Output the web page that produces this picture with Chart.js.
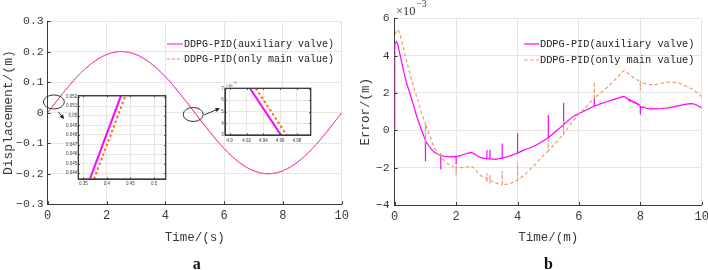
<!DOCTYPE html>
<html><head><meta charset="utf-8">
<script src="https://cdn.jsdelivr.net/npm/chart.js@4.4.1/dist/chart.umd.min.js"></script>
<style>
html,body{margin:0;padding:0;background:#fff;overflow:hidden;width:708px;height:270px;position:relative}
canvas{position:absolute}
</style></head><body>
<canvas id="cA" width="354" height="270" style="left:0;top:0"></canvas>
<canvas id="cB" width="364" height="270" style="left:354px;top:0"></canvas>
<canvas id="cI1" width="112" height="100" style="left:60px;top:90px"></canvas>
<canvas id="cI2" width="112" height="68" style="left:205px;top:80px"></canvas>
<script>
// ---------- data ----------
const legendLabels = ['DDPG-PID(auxiliary valve)', 'DDPG-PID(only main value)'];

// (a) displacement, m
const dispTime = [0,0.25,0.5,0.75,1,1.25,1.5,1.75,2,2.25,2.5,2.75,3,3.25,3.5,3.75,4,4.25,4.5,4.75,5,5.25,5.5,5.75,6,6.25,6.5,6.75,7,7.25,7.5,7.75,8,8.25,8.5,8.75,9,9.25,9.5,9.75,10];
const dispAux = [0,0.0313,0.0618,0.0908,0.1176,0.1414,0.1618,0.1782,0.1902,0.1975,0.2000,0.1975,0.1902,0.1782,0.1618,0.1414,0.1176,0.0908,0.0618,0.0313,0,-0.0313,-0.0618,-0.0908,-0.1176,-0.1414,-0.1618,-0.1782,-0.1902,-0.1975,-0.2000,-0.1975,-0.1902,-0.1782,-0.1618,-0.1414,-0.1176,-0.0908,-0.0618,-0.0313,0];
const dispMain = [0,0.0301,0.0606,0.0897,0.1166,0.1405,0.1611,0.1777,0.1898,0.1973,0.2000,0.1977,0.1906,0.1788,0.1625,0.1423,0.1186,0.0919,0.0630,0.0325,0.0013,-0.0301,-0.0606,-0.0897,-0.1166,-0.1405,-0.1611,-0.1777,-0.1898,-0.1973,-0.2000,-0.1977,-0.1906,-0.1788,-0.1625,-0.1423,-0.1186,-0.0919,-0.0630,-0.0325,-0.0013];
const dispXTicks = [0,2,4,6,8,10];
const dispYTicks = [-0.3,-0.2,-0.1,0,0.1,0.2,0.3];

// zoom insets of (a)
const zoom1Aux  = [[0.364,0.0434],[0.430,0.0521]];
const zoom1Main = [[0.3727,0.0434],[0.4394,0.0521]];
const zoom1XTicks = [0.35,0.4,0.45,0.5];
const zoom1YTicks = [0.044,0.045,0.046,0.047,0.048,0.049,0.05,0.051,0.052];
const zoom2Aux  = [[4.924,0.00702],[4.961,0.003]];
const zoom2Main = [[4.931,0.00702],[4.9678,0.003]];
const zoom2XTicks = [4.9,4.92,4.94,4.96,4.98];
const zoom2YTicks = [0.003,0.004,0.005,0.006,0.007];

// (b) error, x10^-3 m   [time, value]
const errAux = [[0,0],[0,4.6],[0.05,4.75],[0.1,4.6],[0.2,3.85],[0.3,3.1],[0.4,2.45],[0.5,1.96],[0.6,1.4],[0.7,0.85],[0.8,0.35],[0.9,-0.1],[1.0,-0.54],[1.0,-1.66],[1.005,-0.56],[1.1,-0.8],[1.2,-1.02],[1.3,-1.18],[1.4,-1.28],[1.5,-1.34],[1.5,-2.1],[1.505,-1.34],[1.6,-1.39],[1.7,-1.41],[1.8,-1.42],[1.9,-1.41],[2.0,-1.4],[2.0,-1.82],[2.005,-1.4],[2.1,-1.37],[2.2,-1.32],[2.3,-1.27],[2.4,-1.22],[2.5,-1.18],[2.6,-1.27],[2.7,-1.38],[2.8,-1.45],[2.9,-1.5],[3.0,-1.52],[3.0,-1.05],[3.005,-1.52],[3.1,-1.53],[3.1,-1.05],[3.105,-1.53],[3.2,-1.54],[3.3,-1.54],[3.4,-1.52],[3.5,-1.49],[3.5,-0.7],[3.505,-1.49],[3.6,-1.45],[3.7,-1.4],[3.8,-1.34],[3.9,-1.28],[4.0,-1.22],[4.0,-0.16],[4.005,-1.22],[4.1,-1.14],[4.2,-1.06],[4.3,-1.0],[4.4,-0.95],[4.5,-0.88],[4.6,-0.8],[4.7,-0.7],[4.8,-0.6],[4.9,-0.5],[5.0,-0.4],[5.0,0.82],[5.005,-0.4],[5.1,-0.26],[5.2,-0.12],[5.3,0.02],[5.4,0.16],[5.5,0.3],[5.5,1.48],[5.505,0.3],[5.6,0.45],[5.7,0.6],[5.8,0.72],[5.9,0.82],[6.0,0.9],[6.2,1.05],[6.4,1.22],[6.5,1.3],[6.5,1.7],[6.505,1.3],[6.7,1.42],[6.9,1.53],[7.1,1.63],[7.3,1.74],[7.45,1.82],[7.5,1.8],[7.55,1.72],[7.6,1.68],[7.63,1.6],[7.67,1.64],[7.7,1.55],[7.73,1.59],[7.77,1.5],[7.8,1.54],[7.84,1.44],[7.87,1.48],[7.91,1.38],[7.94,1.42],[7.98,1.32],[8.0,1.3],[8.0,0.85],[8.005,1.28],[8.05,1.22],[8.1,1.25],[8.2,1.18],[8.35,1.15],[8.5,1.15],[8.7,1.17],[8.9,1.2],[9.1,1.27],[9.3,1.34],[9.5,1.4],[9.65,1.43],[9.75,1.41],[9.85,1.34],[9.95,1.25],[10,1.2]];
const errMain = [[0,0],[0,5.0],[0.05,5.3],[0.1,5.4],[0.17,5.18],[0.3,4.3],[0.4,3.65],[0.5,3.0],[0.6,2.4],[0.72,1.8],[0.85,1.05],[1.0,0.36],[1.0,-0.7],[1.005,0.33],[1.1,-0.1],[1.2,-0.55],[1.27,-0.9],[1.4,-1.25],[1.5,-1.43],[1.5,-1.15],[1.505,-1.45],[1.6,-1.6],[1.7,-1.75],[1.8,-1.87],[1.9,-1.94],[2.0,-1.98],[2.0,-2.4],[2.005,-1.98],[2.1,-2.0],[2.2,-2.0],[2.3,-1.97],[2.4,-1.94],[2.5,-1.91],[2.6,-2.05],[2.7,-2.25],[2.8,-2.42],[2.9,-2.52],[3.0,-2.57],[3.0,-2.3],[3.0,-2.8],[3.005,-2.58],[3.1,-2.65],[3.1,-2.35],[3.1,-2.85],[3.105,-2.66],[3.2,-2.75],[3.3,-2.83],[3.4,-2.88],[3.5,-2.9],[3.5,-2.18],[3.505,-2.9],[3.6,-2.9],[3.7,-2.88],[3.8,-2.83],[3.9,-2.76],[4.0,-2.66],[4.0,-1.68],[4.005,-2.66],[4.1,-2.55],[4.2,-2.42],[4.3,-2.28],[4.4,-2.12],[4.5,-1.95],[4.6,-1.78],[4.7,-1.6],[4.8,-1.42],[4.9,-1.25],[5.0,-1.1],[5.0,-0.5],[5.005,-1.1],[5.1,-0.93],[5.2,-0.76],[5.3,-0.58],[5.4,-0.38],[5.5,-0.18],[5.5,0.5],[5.505,-0.18],[5.6,0.03],[5.7,0.25],[5.8,0.47],[5.9,0.68],[6.0,0.88],[6.2,1.2],[6.4,1.55],[6.5,1.71],[6.5,2.6],[6.505,1.71],[6.6,1.85],[6.8,2.12],[7.0,2.43],[7.2,2.75],[7.4,3.1],[7.48,3.22],[7.6,3.05],[7.8,2.8],[8.0,2.6],[8.0,2.16],[8.005,2.6],[8.1,2.52],[8.3,2.45],[8.5,2.45],[8.7,2.52],[8.9,2.58],[9.1,2.57],[9.3,2.5],[9.5,2.36],[9.7,2.2],[9.9,1.95],[10,1.8]];
const errXTicks = [0,2,4,6,8,10];
const errYTicks = [-4,-2,0,2,4,6];

// ---------- styling helpers ----------
const INK = '#3a3a3a', GRID = '#e6e6e6';
const MONO = '"Liberation Mono","DejaVu Sans Mono",monospace';
const SERIF = '"Liberation Serif","DejaVu Serif",serif';
const SANS = '"Liberation Sans","DejaVu Sans",sans-serif';
const MAG = '#ff00ff', ORG = '#f2854f', ORG_B = '#f29a6e', ORG_I = '#ff6a1a';
Chart.defaults.font.family = MONO;

const minus = s => s.replace('-', '\u2212');

function lin(o) {
  return {
    type: 'linear', min: o.min, max: o.max,
    afterBuildTicks: s => { s.ticks = o.ticks.map(v => ({ value: v })); },
    afterFit: s => { if (o.w != null) s.width = o.w; if (o.h != null) s.height = o.h; },
    grid: { color: GRID, drawTicks: false, lineWidth: 1 },
    border: { display: true, color: INK, width: 1 },
    ticks: { padding: o.pad, color: INK, autoSkip: false, maxRotation: 0,
             font: { family: o.fam || MONO, size: o.fs }, callback: o.fmt },
    title: o.title ? { display: true, text: o.title, color: INK,
             font: { family: MONO, size: o.tfs }, padding: o.tpad } : { display: false }
  };
}

const pts = (xs, ys) => xs.map((x, i) => ({ x: x, y: ys[i] }));
const pairs = a => a.map(p => ({ x: p[0], y: p[1] }));

const decor = {
  id: 'decor',
  beforeDraw(c, args, o) {
    if (!o.bg) return;
    const ctx = c.ctx, ca = c.chartArea;
    ctx.save(); ctx.fillStyle = '#fff';
    ctx.fillRect(ca.left, ca.top, ca.right - ca.left, ca.bottom - ca.top);
    ctx.restore();
  },
  afterDraw(c, args, o) {
    const ctx = c.ctx, ca = c.chartArea, xs = c.scales.x, ys = c.scales.y;
    ctx.save();
    ctx.strokeStyle = INK; ctx.lineWidth = 1;
    const L = o.tick || 3;
    ctx.beginPath();
    xs.ticks.forEach(t => { const p = Math.round(xs.getPixelForValue(t.value)) + 0.5;
      ctx.moveTo(p, ca.bottom); ctx.lineTo(p, ca.bottom - L);
      if (o.frame) { ctx.moveTo(p, ca.top); ctx.lineTo(p, ca.top + L); } });
    ys.ticks.forEach(t => { const p = Math.round(ys.getPixelForValue(t.value)) + 0.5;
      ctx.moveTo(ca.left, p); ctx.lineTo(ca.left + L, p);
      if (o.frame) { ctx.moveTo(ca.right, p); ctx.lineTo(ca.right - L, p); } });
    ctx.stroke();
    if (o.frame) { ctx.lineWidth = o.frame; ctx.strokeRect(ca.left, ca.top, ca.right - ca.left, ca.bottom - ca.top); }
    if (o.legend) {
      const lg = o.legend;
      ctx.font = lg.size + 'px ' + MONO; ctx.textBaseline = 'middle'; ctx.textAlign = 'left';
      c.data.datasets.forEach((d, i) => {
        const y = lg.ys[i];
        ctx.strokeStyle = d.borderColor; ctx.lineWidth = d.borderWidth;
        ctx.setLineDash(d.borderDash || []);
        ctx.beginPath(); ctx.moveTo(lg.x0, y); ctx.lineTo(lg.x1, y); ctx.stroke();
        ctx.setLineDash([]);
        ctx.fillStyle = '#222'; ctx.fillText(d.label, lg.tx, y + 0.5);
      });
    }
    if (o.marks) {
      ctx.strokeStyle = '#333'; ctx.fillStyle = '#222'; ctx.lineWidth = 1;
      o.marks.ellipses.forEach(e => {
        ctx.beginPath();
        ctx.ellipse(xs.getPixelForValue(e.t), ys.getPixelForValue(e.v), e.rx, e.ry, 0, 0, 2 * Math.PI);
        ctx.stroke();
      });
      o.marks.arrows.forEach(a => {
        const x0 = xs.getPixelForValue(a.t0), y0 = ys.getPixelForValue(a.v0);
        const x1 = xs.getPixelForValue(a.t1), y1 = ys.getPixelForValue(a.v1);
        const ang = Math.atan2(y1 - y0, x1 - x0), h = 5;
        ctx.beginPath(); ctx.moveTo(x0, y0); ctx.lineTo(x1 - 3 * Math.cos(ang), y1 - 3 * Math.sin(ang)); ctx.stroke();
        ctx.beginPath(); ctx.moveTo(x1, y1);
        ctx.lineTo(x1 - h * Math.cos(ang - 0.45), y1 - h * Math.sin(ang - 0.45));
        ctx.lineTo(x1 - h * Math.cos(ang + 0.45), y1 - h * Math.sin(ang + 0.45));
        ctx.closePath(); ctx.fill();
      });
    }
    if (o.power) {
      const p = o.power;
      ctx.fillStyle = INK; ctx.textBaseline = 'alphabetic'; ctx.textAlign = 'left';
      ctx.font = p.size + 'px ' + SERIF;
      ctx.fillText('\u00d710', p.x, p.y);
      const w = ctx.measureText('\u00d710').width;
      ctx.font = (p.size * 0.78) + 'px ' + SERIF;
      ctx.fillText('\u22123', p.x + w + p.size * 0.05, p.y - p.size * 0.62);
    }
    if (o.tag) {
      ctx.fillStyle = '#111'; ctx.textAlign = 'center'; ctx.textBaseline = 'alphabetic';
      ctx.font = 'bold 16px ' + SERIF;
      ctx.fillText(o.tag.text, o.tag.x, o.tag.y);
    }
    ctx.restore();
  }
};

const base = (padding) => ({
  responsive: false, animation: false, devicePixelRatio: 1, events: [],
  layout: { padding: padding },
  plugins: { legend: { display: false }, tooltip: { enabled: false } },
  elements: { point: { radius: 0 } }
});

// ---------- chart (a) ----------
const optA = base({ left: 0, top: 21, right: 12.3, bottom: 0 });
optA.scales = {
  x: lin({ min: 0, max: 10, ticks: dispXTicks, h: 65.7, pad: 4, fs: 12,
           fmt: v => String(v), title: 'Time/(s)', tfs: 12.5, tpad: { top: 0, bottom: 25 } }),
  y: lin({ min: -0.3, max: 0.3, ticks: dispYTicks, w: 47.7, pad: 4, fs: 11.5,
           fmt: v => minus(String(Math.round(v * 10) / 10)), title: 'Displacement/(m)', tfs: 13, tpad: { top: 0.5, bottom: 0 } })
};
optA.plugins.decor = {
  legend: { x0: 167, x1: 183, tx: 184, ys: [44, 59], size: 10 },
  marks: {
    ellipses: [{ t: 0.21, v: 0.035, rx: 10.5, ry: 7 }, { t: 4.95, v: -0.006, rx: 10, ry: 7 }],
    arrows: [{ t0: 0.36, v0: 0.003, t1: 0.56, v1: -0.021 }, { t0: 5.32, v0: -0.0075, t1: 5.86, v1: 0.0144 }]
  },
  tag: { text: 'a', x: 196.7, y: 268.5 }
};
new Chart(document.getElementById('cA'), {
  type: 'line',
  data: { datasets: [
    { label: legendLabels[0], data: pts(dispTime, dispAux), borderColor: MAG, borderWidth: 1, cubicInterpolationMode: 'monotone', order: 1 },
    { label: legendLabels[1], data: pts(dispTime, dispMain), borderColor: ORG, borderWidth: 1, borderDash: [3, 2], cubicInterpolationMode: 'monotone', order: 0 }
  ] },
  options: optA, plugins: [decor]
});

// ---------- inset 1 ----------
const optI1 = base({ left: 0, top: 5.7, right: 6.3, bottom: 0 });
optI1.scales = {
  x: lin({ min: 0.3394, max: 0.5248, ticks: zoom1XTicks, h: 11, pad: 1.6, fs: 4.5, fam: SANS, fmt: v => String(+v.toFixed(2)) }),
  y: lin({ min: 0.0434, max: 0.0521, ticks: zoom1YTicks, w: 18.3, pad: 1, fs: 4.5, fam: SANS, fmt: v => String(+v.toFixed(3)) })
};
optI1.plugins.decor = { bg: true, frame: 1.3, tick: 1.5 };
new Chart(document.getElementById('cI1'), {
  type: 'line',
  data: { datasets: [
    { label: legendLabels[0], data: pairs(zoom1Aux), borderColor: MAG, borderWidth: 2, order: 1 },
    { label: legendLabels[1], data: pairs(zoom1Main), borderColor: ORG_I, borderWidth: 2, borderDash: [2.5, 2.5], order: 0 }
  ] },
  options: optI1, plugins: [decor]
});

// ---------- inset 2 ----------
const optI2 = base({ left: 0, top: 8.3, right: 6.3, bottom: 0 });
optI2.scales = {
  x: lin({ min: 4.8944, max: 4.9964, ticks: zoom2XTicks, h: 13, pad: 3.2, fs: 4.5, fam: SANS, fmt: v => String(+v.toFixed(2)) }),
  y: lin({ min: 0.003, max: 0.00702, ticks: zoom2YTicks, w: 20, pad: 1.2, fs: 4.5, fam: SANS, fmt: v => String(Math.round(v * 1000)) })
};
optI2.plugins.decor = { bg: true, frame: 1.3, tick: 1.5, power: { x: 20.5, y: 7, size: 4.5 } };
new Chart(document.getElementById('cI2'), {
  type: 'line',
  data: { datasets: [
    { label: legendLabels[0], data: pairs(zoom2Aux), borderColor: MAG, borderWidth: 2, order: 1 },
    { label: legendLabels[1], data: pairs(zoom2Main), borderColor: ORG_I, borderWidth: 2, borderDash: [2.5, 2.5], order: 0 }
  ] },
  options: optI2, plugins: [decor]
});

// ---------- chart (b) ----------
const optB = base({ left: 0, top: 18.3, right: 16.3, bottom: 0 });
optB.scales = {
  x: lin({ min: 0, max: 10, ticks: errXTicks, h: 65, pad: 4.5, fs: 12,
           fmt: v => String(v), title: 'Time/(m)', tfs: 12.5, tpad: { top: 0, bottom: 24.5 } }),
  y: lin({ min: -4, max: 6, ticks: errYTicks, w: 40.7, pad: 5, fs: 11.5,
           fmt: v => minus(String(v)), title: 'Error/(m)', tfs: 12.5, tpad: { top: 4, bottom: 0 } })
};
optB.plugins.decor = {
  legend: { x0: 170, x1: 185, tx: 186, ys: [44, 60], size: 10.3 },
  power: { x: 42, y: 15, size: 12.5 },
  tag: { text: 'b', x: 194.5, y: 268.5 }
};
new Chart(document.getElementById('cB'), {
  type: 'line',
  data: { datasets: [
    { label: legendLabels[0], data: pairs(errAux), borderColor: MAG, borderWidth: 1.2, tension: 0, order: 1 },
    { label: legendLabels[1], data: pairs(errMain), borderColor: ORG_B, borderWidth: 1.2, borderDash: [3.5, 2.5], tension: 0, order: 0 }
  ] },
  options: optB, plugins: [decor]
});
</script>
</body></html>
